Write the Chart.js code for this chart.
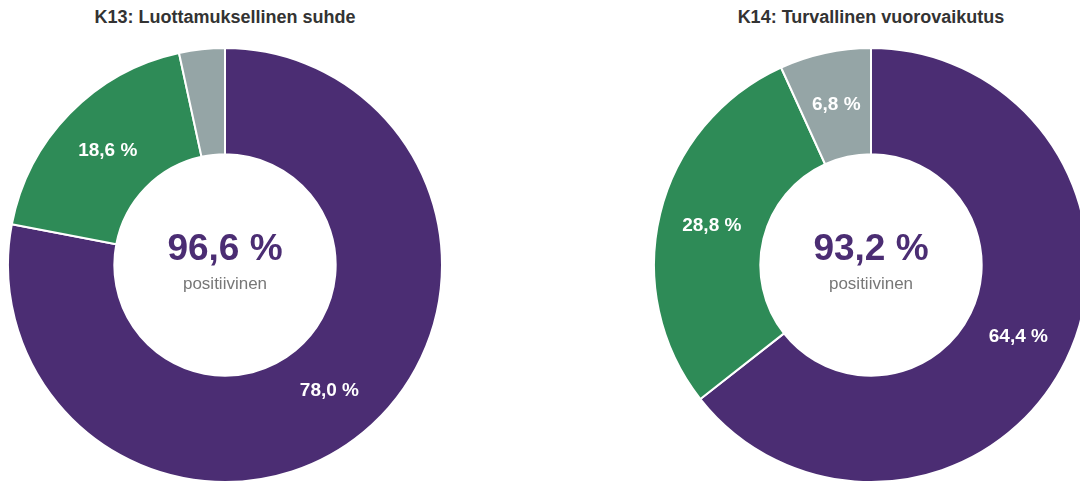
<!DOCTYPE html>
<html>
<head>
<meta charset="utf-8">
<script src="https://cdn.jsdelivr.net/npm/chart.js@4"></script>
<style>
  html, body { margin: 0; padding: 0; background: #fff; }
  body { width: 1080px; height: 481px; overflow: hidden; position: relative; }
  .title {
    position: absolute; top: 7px; width: 450px; text-align: center;
    font: bold 18px "Liberation Sans", Arial, sans-serif; color: #333;
  }
  .box { position: absolute; top: 47px; width: 436px; height: 436px; }
</style>
</head>
<body>
<div class="title" style="left:0">K13: Luottamuksellinen suhde</div>
<div class="title" style="left:646px">K14: Turvallinen vuorovaikutus</div>
<div class="box" style="left:7px"><canvas id="k13"></canvas></div>
<div class="box" style="left:653px"><canvas id="k14"></canvas></div>
<script>
// Data
const categories = ["Täysin samaa mieltä", "Jokseenkin samaa mieltä", "Eri mieltä"];
const k13Values = [78.0, 18.6, 3.4];
const k14Values = [64.4, 28.8, 6.8];
const colors = ["#4b2d73", "#2e8b57", "#95a5a6"];

function fmt(v) {
  return v.toFixed(1).replace(".", ",") + " %";
}

// Labels on slices + center text
const labelPlugin = {
  id: "sliceLabels",
  afterDatasetsDraw(chart) {
    const ctx = chart.ctx;
    const values = chart.data.datasets[0].data;
    const meta = chart.getDatasetMeta(0);
    ctx.save();
    ctx.fillStyle = "#fff";
    ctx.font = 'bold 19px "Liberation Sans", Arial, sans-serif';
    ctx.textAlign = "center";
    ctx.textBaseline = "middle";
    meta.data.forEach((arc, i) => {
      if (values[i] < 5) return;
      const p = arc.tooltipPosition();
      ctx.fillText(fmt(values[i]), p.x, p.y);
    });
    const first = meta.data[0];
    const positive = values[0] + values[1];
    ctx.fillStyle = "#4b2d73";
    ctx.font = 'bold 37px "Liberation Sans", Arial, sans-serif';
    ctx.fillText(fmt(positive), first.x, first.y - 15);
    ctx.fillStyle = "#777";
    ctx.font = '17px "Liberation Sans", Arial, sans-serif';
    ctx.fillText("positiivinen", first.x, first.y + 19);
    ctx.restore();
  },
};

function makeChart(id, values) {
  return new Chart(document.getElementById(id), {
    type: "doughnut",
    data: {
      labels: categories,
      datasets: [{
        data: values,
        backgroundColor: colors,
        borderColor: "#fff",
        borderWidth: 2,
      }],
    },
    options: {
      responsive: true,
      maintainAspectRatio: false,
      animation: false,
      cutout: "51%",
      layout: { padding: 0 },
      plugins: { legend: { display: false }, tooltip: { enabled: false } },
    },
    plugins: [labelPlugin],
  });
}

makeChart("k13", k13Values);
makeChart("k14", k14Values);
</script>
</body>
</html>
